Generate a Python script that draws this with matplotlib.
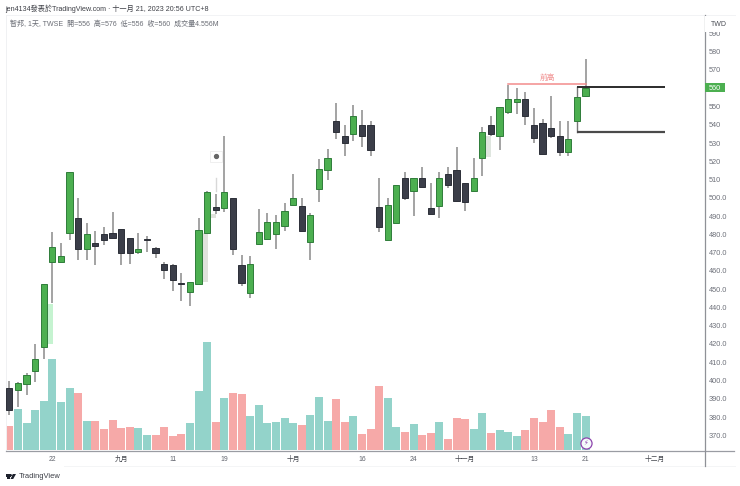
# -*- coding: utf-8 -*-
import matplotlib
matplotlib.use('Agg')
import matplotlib.pyplot as plt
from matplotlib.patches import Rectangle, Circle, Polygon

plt.rcParams['font.family'] = ['Liberation Sans', 'Noto Sans CJK TC', 'DejaVu Sans']

# daily bars
opens = [396,395,398,405,418.5,464.7,465,481,489,472,475.5,480,480.6,483,478,470.5,477.5,472.4,464,463,453.4,448.3,452.7,480.8,495,494.6,499.8,463,448,475,477.6,480,484.6,496,495.4,476,505,515,542,534,535,540,540,495,477,486,511,504,511,494.5,495.5,513,515,508,504,522,540,534,547,552.3,554,540,541,538,534,525,542,556]
closes = [384,398.5,403,411.6,453,473,468,514,472,480,473.7,477,478,470,470,472,477,470,460.7,455,452.7,453.8,482.6,503,493.5,503,472,453.4,463.6,481.5,486.6,486.6,493,500,482,490.4,516,522,536,530,545,534,526,484,496,507,500,511,506,491,511,507,498.4,497.7,511,536,535,550,554,554,545,533,524,534,525,532,555,560]
highs = [400,399,404,420,453,481.5,475.5,514,500,486,482,484,492,483,478,481,479,473,465,464,458.7,453.8,488.8,504,502,534,499.8,468.5,468,493.7,491.5,490.4,497,513,499.8,491.5,521,527,552,540,551,548,542,511,500,507,514,511,517,508,514,517,528,508,522,539,545,550,562,560,558,549,543,556,542,542,555,576]
lows = [381,385.4,392,399,411.6,442.5,465,477,466,466,463,474,478,463,463.6,469,470.4,467,455.6,449,443.7,441,452.7,480.8,491,492.4,468.7,451.8,445,474.4,477.6,472,481.7,496,482,466,498,510,532,523,531,528,523,481.3,477,486,498.7,490,505.5,491,489,505.4,498,492.6,503.4,512,534,526,546,546,540,530,524,533,523,523,542,556]
candle_up = [0,1,1,1,1,1,1,1,0,1,0,0,0,0,0,1,0,0,0,0,0,1,1,1,0,1,0,0,1,1,1,1,1,1,0,1,1,1,0,0,1,0,0,0,1,1,0,1,0,0,1,0,0,0,1,1,0,1,1,1,0,0,0,0,0,1,1,1]

# volume in millions
volume = [3.23,5.49,3.63,5.31,6.55,12.13,6.42,8.23,7.57,3.85,3.85,2.83,4.03,2.97,3.05,2.92,1.99,2.08,3.10,1.90,2.17,3.63,7.88,14.43,3.72,6.95,7.57,7.44,4.56,5.98,3.63,3.81,4.29,3.63,3.36,4.74,7.08,3.85,6.86,3.72,4.52,2.17,2.79,8.54,6.91,3.10,2.43,3.50,2.08,2.26,3.76,1.55,4.34,4.21,2.88,4.91,2.35,2.66,2.43,1.90,2.70,4.25,3.72,5.36,3.14,2.17,4.96,4.556]
vol_up = [0,1,1,1,1,1,1,1,0,1,0,0,0,0,0,1,1,0,0,0,0,1,1,1,0,1,0,0,1,1,1,1,1,1,0,1,1,1,0,0,1,0,0,0,1,1,0,1,0,0,1,0,0,0,1,1,0,1,1,1,0,0,0,0,0,1,1,1]

price_ticks = [370,380,390,400,410,420,430,440,450,460,470,480,490,500,510,520,530,540,550,560,570,580,590]
date_pos = [5,13,19,25,33,41,47,53,61,67,75]
date_labels = ['22','九月','11','19','十月','16','24','十一月','13','21','十二月']

GREEN = '#4caf50'
GREEN_EDGE = '#2f7d3a'
DARK = '#3b3e49'
DARK_EDGE = '#2c2f38'
WICK = '#8a8a8a'
TEAL = '#93d3ca'
PINK = '#f6a9a8'

W, H = 740, 486
fig = plt.figure(figsize=(7.4, 4.86), dpi=100)
L, R, T, B = 5.5, 704, 15, 450.3
ax = fig.add_axes([L/W, 1-B/H, (R-L)/W, (B-T)/H])
ax2 = ax.twinx()
ax.set_zorder(2)
ax.patch.set_visible(False)

ax.set_xlim(-0.453, 80.77)
ax.set_ylim(361.8, 600.1)
ax2.set_ylim(0, 57.8)

ax2.bar(range(len(volume)), volume, width=0.93,
        color=[TEAL if u else PINK for u in vol_up], linewidth=0)

# ghost blocks behind some of the bars
ax.add_patch(Rectangle((4.5, 420), 0.62, 22, color='#c5f3d0', lw=0, zorder=1))
ax.add_patch(Rectangle((22.5, 454), 0.55, 27, color='#e0e2dc', lw=0, zorder=1))
ax.add_patch(Rectangle((23.3, 489), 0.7, 2, color='#e0e2dc', lw=0, zorder=1))
ax.add_patch(Rectangle((55.3, 522.5), 0.7, 11.5, color='#dfe6df', lw=0, zorder=1))

for i in range(len(opens)):
    ax.plot([i, i], [lows[i], highs[i]], color=WICK, lw=1.1, zorder=2, solid_capstyle='butt')
    bottom = min(opens[i], closes[i])
    height = abs(closes[i]-opens[i])
    if candle_up[i]:
        fc, ec = GREEN, GREEN_EDGE
    else:
        fc, ec = DARK, DARK_EDGE
    ax.bar(i, height, bottom=bottom, width=0.72, color=fc, edgecolor=ec, linewidth=0.7, zorder=3)

# drawings on the chart
ax.plot([58, 67], [562.3, 562.3], color='#f28c8c', lw=1.1, zorder=4)
ax.text(62.5, 565.5, '前高', color='#f08a8a', fontsize=5.6, ha='center', va='center', zorder=4)
ax.plot([66, 66], [536, 560.6], color='#777777', lw=1.0, zorder=2)
ax.plot([66, 76.2], [560.6, 560.6], color='#2b2b2b', lw=1.4, zorder=4, solid_capstyle='butt')
ax.plot([66, 76.2], [536, 536], color='#4a4a4a', lw=1.6, zorder=4, solid_capstyle='butt')

# marker above the long wick
ax.plot([24, 24], [504, 511], color='#d8d8d8', lw=1.0, zorder=2)
ax.add_patch(Rectangle((23.3, 519.8), 1.4, 6, fc='white', ec='#ececec', lw=0.6, zorder=5))
ax.plot([24], [522.7], marker='o', ms=2.8, color='#666666', zorder=6)

# flash icon
ax.plot([67], [365.7], marker='o', ms=8, mfc='#f4fbfa', mec='#8e44ad', mew=0.9, zorder=6, clip_on=False)
ax.text(67, 365.7, '⚡', color='#8e44ad', fontsize=4.8, ha='center', va='center', zorder=7)

# axes
ax2.set_yticks([])
ax.set_yticks(price_ticks)
# the 560 label sits under the last price tag
ax.set_yticklabels(['' if p == 560 else (str(p)+'.0' if p <= 500 else str(p)) for p in price_ticks])
ax.yaxis.tick_right()
ax.tick_params(axis='y', length=0, pad=3.6, labelsize=5.3, labelcolor='#6e717a')
ax.set_xticks(date_pos)
ax.set_xticklabels(date_labels)
ax.tick_params(axis='x', length=0, pad=4, labelsize=4.9, labelcolor='#62656e')
for lab in ax.get_xticklabels():
    if lab.get_text() in ['九月', '十月', '十一月', '十二月']:
        lab.set_color('#45484f')
for a in [ax, ax2]:
    for s in ['top', 'left', 'bottom', 'right']:
        a.spines[s].set_visible(False)

def figline(x0, y0, x1, y1, color, lw):
    fig.add_artist(plt.Line2D([x0/W, x1/W], [1-y0/H, 1-y1/H], color=color, lw=lw))

figline(5.5, 15, 735, 15, '#f2f3f5', 0.7)
figline(5.5, 15, 5.5, 450, '#f0f1f3', 0.7)
figline(5.5, 450.5, 734, 450.5, '#9a9ca3', 0.9)
figline(64, 466, 735, 466, '#f4f5f6', 0.7)

# currency box hides the clipped top label
fig.add_artist(Rectangle((705/W, 1-32/H), 30/W, 16/H, transform=fig.transFigure, fc='white', ec='none', zorder=5))
fig.text(719/W, 1-24.5/H, 'TWD', fontsize=5.0, color='#4a4d55', ha='center', va='center', zorder=6)
figline(704.5, 15, 704.5, 466, '#8f9197', 0.9)

# last price tag
fig.add_artist(Rectangle((705/W, 1-92.5/H), 19.5/W, 9/H, transform=fig.transFigure, fc=GREEN, ec='none', zorder=5))
fig.text(714.5/W, 1-88/H, '560', fontsize=5.3, color='white', ha='center', va='center', zorder=6)

# header
fig.text(5.5/W, 1-9/H, 'jen4134發表於TradingView.com · 十一月 21, 2023 20:56 UTC+8',
         fontsize=5.1, color='#3d3f46', ha='left', va='center')
fig.text(10/W, 1-24/H, '智邦, 1天, TWSE  開=556  高=576  低=556  收=560  成交量4.556M',
         fontsize=5.05, color='#6a6d75', ha='left', va='center')

# footer logo
fig.add_artist(Rectangle((5.5/W, 1-476.5/H), 5/W, 2.5/H, transform=fig.transFigure, fc='#1e222d', ec='none'))
fig.add_artist(Rectangle((7.2/W, 1-479/H), 2.3/W, 3/H, transform=fig.transFigure, fc='#1e222d', ec='none'))
fig.add_artist(Circle((11.6/W, 1-475.2/H), 0.0016, transform=fig.transFigure, fc='#1e222d', ec='none'))
fig.add_artist(Polygon([(10.5/W, 1-479/H), (13/W, 1-474/H), (16/W, 1-474/H), (13.2/W, 1-479/H)],
                       closed=True, transform=fig.transFigure, fc='#1e222d', ec='none'))
fig.text(19/W, 1-476.5/H, 'TradingView', fontsize=5.45, color='#3a3d45', ha='left', va='center')

plt.savefig('out.png', dpi=100)
